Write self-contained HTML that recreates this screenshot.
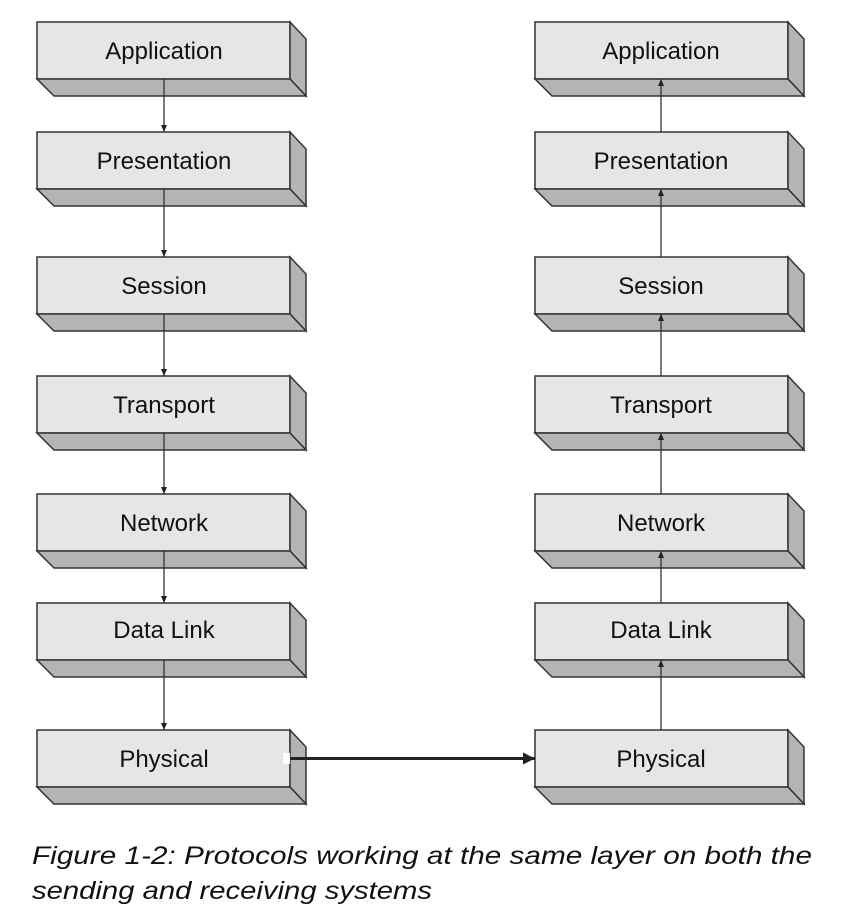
<!DOCTYPE html>
<html><head><meta charset="utf-8"><style>
html,body{margin:0;padding:0;background:#fff;}
svg{display:block}
text{font-family:"Liberation Sans",sans-serif;}
</style></head><body>
<svg width="862" height="924" viewBox="0 0 862 924" xmlns="http://www.w3.org/2000/svg">
<defs>
<g id="box">
<rect x="0" y="0" width="253" height="57" fill="#e6e6e6" stroke="#333" stroke-width="1.5"/>
<polygon points="253,0 269,17 269,74 253,57" fill="#b4b4b4" stroke="#333" stroke-width="1.5"/>
<polygon points="0,57 253,57 269,74 17,74" fill="#b4b4b4" stroke="#333" stroke-width="1.5"/>
</g>
<marker id="ah" markerWidth="8" markerHeight="8" refX="7" refY="4" orient="auto" markerUnits="userSpaceOnUse"><path d="M0,1 L7,4 L0,7 z" fill="#222"/></marker>
<marker id="ah2" markerWidth="14" markerHeight="14" refX="12" refY="7" orient="auto" markerUnits="userSpaceOnUse"><path d="M0,1 L12,7 L0,13 z" fill="#222"/></marker>
</defs>
<g font-size="24" fill="#111" text-anchor="middle">
<use href="#box" x="37" y="22"/><text x="164" y="59">Application</text>
<use href="#box" x="37" y="132"/><text x="164" y="169">Presentation</text>
<use href="#box" x="37" y="257"/><text x="164" y="294">Session</text>
<use href="#box" x="37" y="376"/><text x="164" y="413">Transport</text>
<use href="#box" x="37" y="494"/><text x="164" y="531">Network</text>
<use href="#box" x="37" y="603"/><text x="164" y="638">Data Link</text>
<use href="#box" x="37" y="730"/><text x="164" y="767">Physical</text>
<use href="#box" x="535" y="22"/><text x="661" y="59">Application</text>
<use href="#box" x="535" y="132"/><text x="661" y="169">Presentation</text>
<use href="#box" x="535" y="257"/><text x="661" y="294">Session</text>
<use href="#box" x="535" y="376"/><text x="661" y="413">Transport</text>
<use href="#box" x="535" y="494"/><text x="661" y="531">Network</text>
<use href="#box" x="535" y="603"/><text x="661" y="638">Data Link</text>
<use href="#box" x="535" y="730"/><text x="661" y="767">Physical</text>
</g>
<g stroke="#333" stroke-width="1.3" marker-end="url(#ah)">
<line x1="164" y1="79" x2="164" y2="132"/>
<line x1="164" y1="189" x2="164" y2="257"/>
<line x1="164" y1="314" x2="164" y2="376"/>
<line x1="164" y1="433" x2="164" y2="494"/>
<line x1="164" y1="551" x2="164" y2="603"/>
<line x1="164" y1="660" x2="164" y2="730"/>
<line x1="661" y1="132" x2="661" y2="79"/>
<line x1="661" y1="257" x2="661" y2="189"/>
<line x1="661" y1="376" x2="661" y2="314"/>
<line x1="661" y1="494" x2="661" y2="433"/>
<line x1="661" y1="603" x2="661" y2="551"/>
<line x1="661" y1="730" x2="661" y2="660"/>
</g>
<rect x="283" y="753" width="7" height="11" fill="#fff"/>
<line x1="290" y1="758.5" x2="535" y2="758.5" stroke="#222" stroke-width="3" marker-end="url(#ah2)"/>
<g font-size="25" font-style="italic" fill="#111">
<text x="32" y="864" textLength="780" lengthAdjust="spacingAndGlyphs">Figure 1-2: Protocols working at the same layer on both the</text>
<text x="32" y="899" textLength="400" lengthAdjust="spacingAndGlyphs">sending and receiving systems</text>
</g>
</svg>
</body></html>
